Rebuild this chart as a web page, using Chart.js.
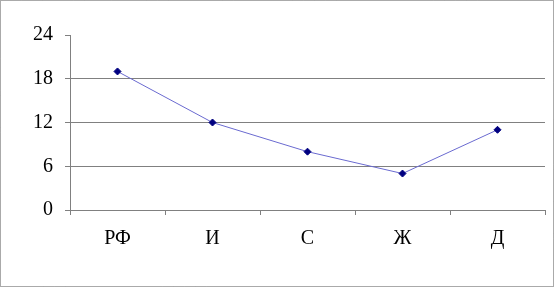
<!DOCTYPE html>
<html>
<head>
<meta charset="utf-8">
<script src="https://cdn.jsdelivr.net/npm/chart.js@4/dist/chart.umd.min.js"></script>
<style>
  html, body { margin: 0; padding: 0; background: #fff; }
  #wrap { width: 554px; height: 287px; position: relative; }
</style>
</head>
<body>
<div id="wrap"><canvas id="chart" width="554" height="287"></canvas></div>
<script>
// Chart values
const categories = ['РФ', 'И', 'С', 'Ж', 'Д'];
const values = [19, 12, 8, 5, 11];
const yTicks = [0, 6, 12, 18, 24];

const GRID = '#808080';
const FONT = { family: "'Liberation Serif', 'Times New Roman', serif", size: 20 };

// Dotted frame around the whole picture
const framePlugin = {
  id: 'frame',
  afterDraw(chart) {
    const ctx = chart.ctx;
    ctx.save();
    ctx.strokeStyle = '#555';
    ctx.lineWidth = 1;
    ctx.setLineDash([1, 1]);
    ctx.strokeRect(0.5, 0.5, chart.width - 1, chart.height - 1);
    ctx.restore();
  },
};

new Chart(document.getElementById('chart'), {
  type: 'line',
  data: {
    labels: categories,
    datasets: [
      {
        data: values,
        borderColor: '#6a6ad0',
        borderWidth: 1,
        pointStyle: 'rectRot',
        pointRadius: 3.5,
        pointBackgroundColor: '#000080',
        pointBorderColor: '#000080',
        pointBorderWidth: 1,
        tension: 0,
      },
    ],
  },
  options: {
    responsive: false,
    animation: false,
    layout: { padding: { top: 35, right: 9, left: 0, bottom: 0 } },
    plugins: {
      legend: { display: false },
      tooltip: { enabled: false },
    },
    scales: {
      x: {
        offset: true,
        afterFit(scale) { scale.height = 77; },
        grid: {
          offset: true,
          drawOnChartArea: false,
          drawTicks: true,
          tickLength: 5,
          tickColor: GRID,
        },
        border: { color: GRID, width: 1 },
        ticks: { color: '#000', font: FONT, padding: 12 },
      },
      y: {
        min: 0,
        max: 24,
        afterFit(scale) { scale.width = 70; },
        afterBuildTicks(scale) {
          scale.ticks = yTicks.map((v) => ({ value: v }));
        },
        grid: {
          color: (c) => (c.tick && (c.tick.value === 24 || c.tick.value === 0) ? 'rgba(0,0,0,0)' : GRID),
          tickColor: GRID,
          tickLength: 5,
          lineWidth: 1,
        },
        border: { color: GRID, width: 1 },
        ticks: { color: '#000', font: FONT, padding: 12 },
      },
    },
  },
  plugins: [framePlugin],
});
</script>
</body>
</html>
